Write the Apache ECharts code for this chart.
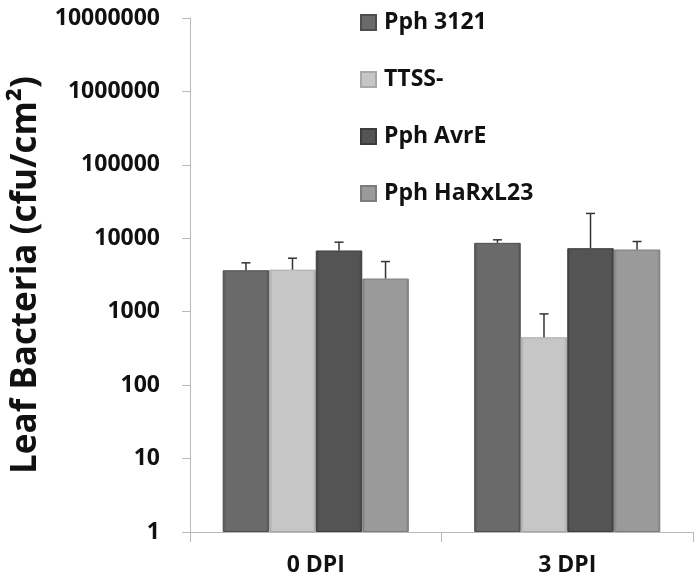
<!DOCTYPE html>
<html><head><meta charset="utf-8">
<script src="https://cdn.jsdelivr.net/npm/echarts@6/dist/echarts.min.js"></script>
<style>html,body{margin:0;padding:0;background:#fff}#c{width:700px;height:580px}</style>
</head><body><div id="c"></div>
<script>
const categories = ['0 DPI', '3 DPI'];
const seriesNames = ['Pph 3121', 'TTSS-', 'Pph AvrE', 'Pph HaRxL23'];
const pph3121 = [3670, 8670];
const ttss = [3740, 448];
const avrE = [6820, 7330];
const harxl23 = [2830, 7030];
const pph3121Err = [4630, 9530];
const ttssErr = [5350, 933];
const avrEErr = [8850, 21800];
const harxl23Err = [4820, 9040];
const yTicks = [1, 10, 100, 1000, 10000, 100000, 1000000, 10000000];

const values = [pph3121, ttss, avrE, harxl23];
const errs = [pph3121Err, ttssErr, avrEErr, harxl23Err];
const colors = ['#6a6a6a', '#c6c6c6', '#545454', '#9a9a9a'];
const edge = ['#4e4e4e', '#a8a8a8', '#3c3c3c', '#7c7c7c'];
const catGap = 0.26;
const FONT = 'Open Sans';

function grad(i) {
  return new echarts.graphic.LinearGradient(0, 0, 1, 0, [
    {offset: 0, color: edge[i]}, {offset: 0.07, color: colors[i]},
    {offset: 0.93, color: colors[i]}, {offset: 1, color: edge[i]}
  ]);
}

const series = [];
values.forEach((vals, i) => {
  series.push({
    name: seriesNames[i], type: 'bar', data: vals,
    barGap: '0%', barCategoryGap: (catGap * 100) + '%',
    itemStyle: {color: grad(i), borderColor: edge[i], borderWidth: 1},
    emphasis: {disabled: true}
  });
});
errs.forEach((ev, i) => {
  series.push({
    type: 'custom', name: seriesNames[i] + ' err', z: 5,
    data: ev.map((e, k) => [k, values[i][k], e]),
    renderItem: function (params, api) {
      const k = api.value(0);
      const catW = api.size([1, 1])[0];
      const bw = catW * (1 - catGap) / 4;
      const base = api.coord([k, api.value(1)]);
      const top = api.coord([k, api.value(2)]);
      const x = base[0] + (i - 1.5) * bw;
      const cap = 4.5;
      const st = {stroke: '#333', lineWidth: 1.5};
      return {type: 'group', children: [
        {type: 'line', shape: {x1: x, y1: base[1], x2: x, y2: top[1]}, style: st},
        {type: 'line', shape: {x1: x - cap, y1: top[1], x2: x + cap, y2: top[1]}, style: st}
      ]};
    }
  });
});

const chart = echarts.init(document.getElementById('c'));
chart.setOption({
  animation: false,
  backgroundColor: '#fff',
  grid: {left: 190, right: 7, top: 18, bottom: 48, containLabel: false},
  legend: {
    data: seriesNames, orient: 'vertical', left: 355, top: 6,
    itemWidth: 15, itemHeight: 15, itemGap: 34, icon: 'rect',
    textStyle: {fontFamily: FONT, fontWeight: 'bold', fontSize: 23, color: '#111', padding: [0, 0, 0, 3]}
  },
  xAxis: {
    type: 'category', data: categories,
    axisLine: {lineStyle: {color: '#b8b8b8', width: 1}},
    axisTick: {show: true, length: 10, lineStyle: {color: '#b8b8b8'}},
    axisLabel: {fontFamily: FONT, fontWeight: 'bold', fontSize: 23, color: '#111', margin: 22}
  },
  yAxis: {
    type: 'log', logBase: 10, min: yTicks[0], max: yTicks[yTicks.length - 1],
    axisLine: {show: true, lineStyle: {color: '#b8b8b8'}},
    axisTick: {show: true, length: 8, lineStyle: {color: '#b8b8b8'}},
    splitLine: {show: false},
    axisLabel: {fontFamily: FONT, fontWeight: 'bold', fontSize: 23, color: '#111', margin: 30,
      formatter: v => String(Math.round(v))},
    name: 'Leaf Bacteria (cfu/cm²)', nameLocation: 'middle', nameGap: 142,
    nameTextStyle: {fontFamily: FONT, fontWeight: 'bold', fontSize: 35, color: '#111'}
  },
  series: series
});
</script></body></html>
